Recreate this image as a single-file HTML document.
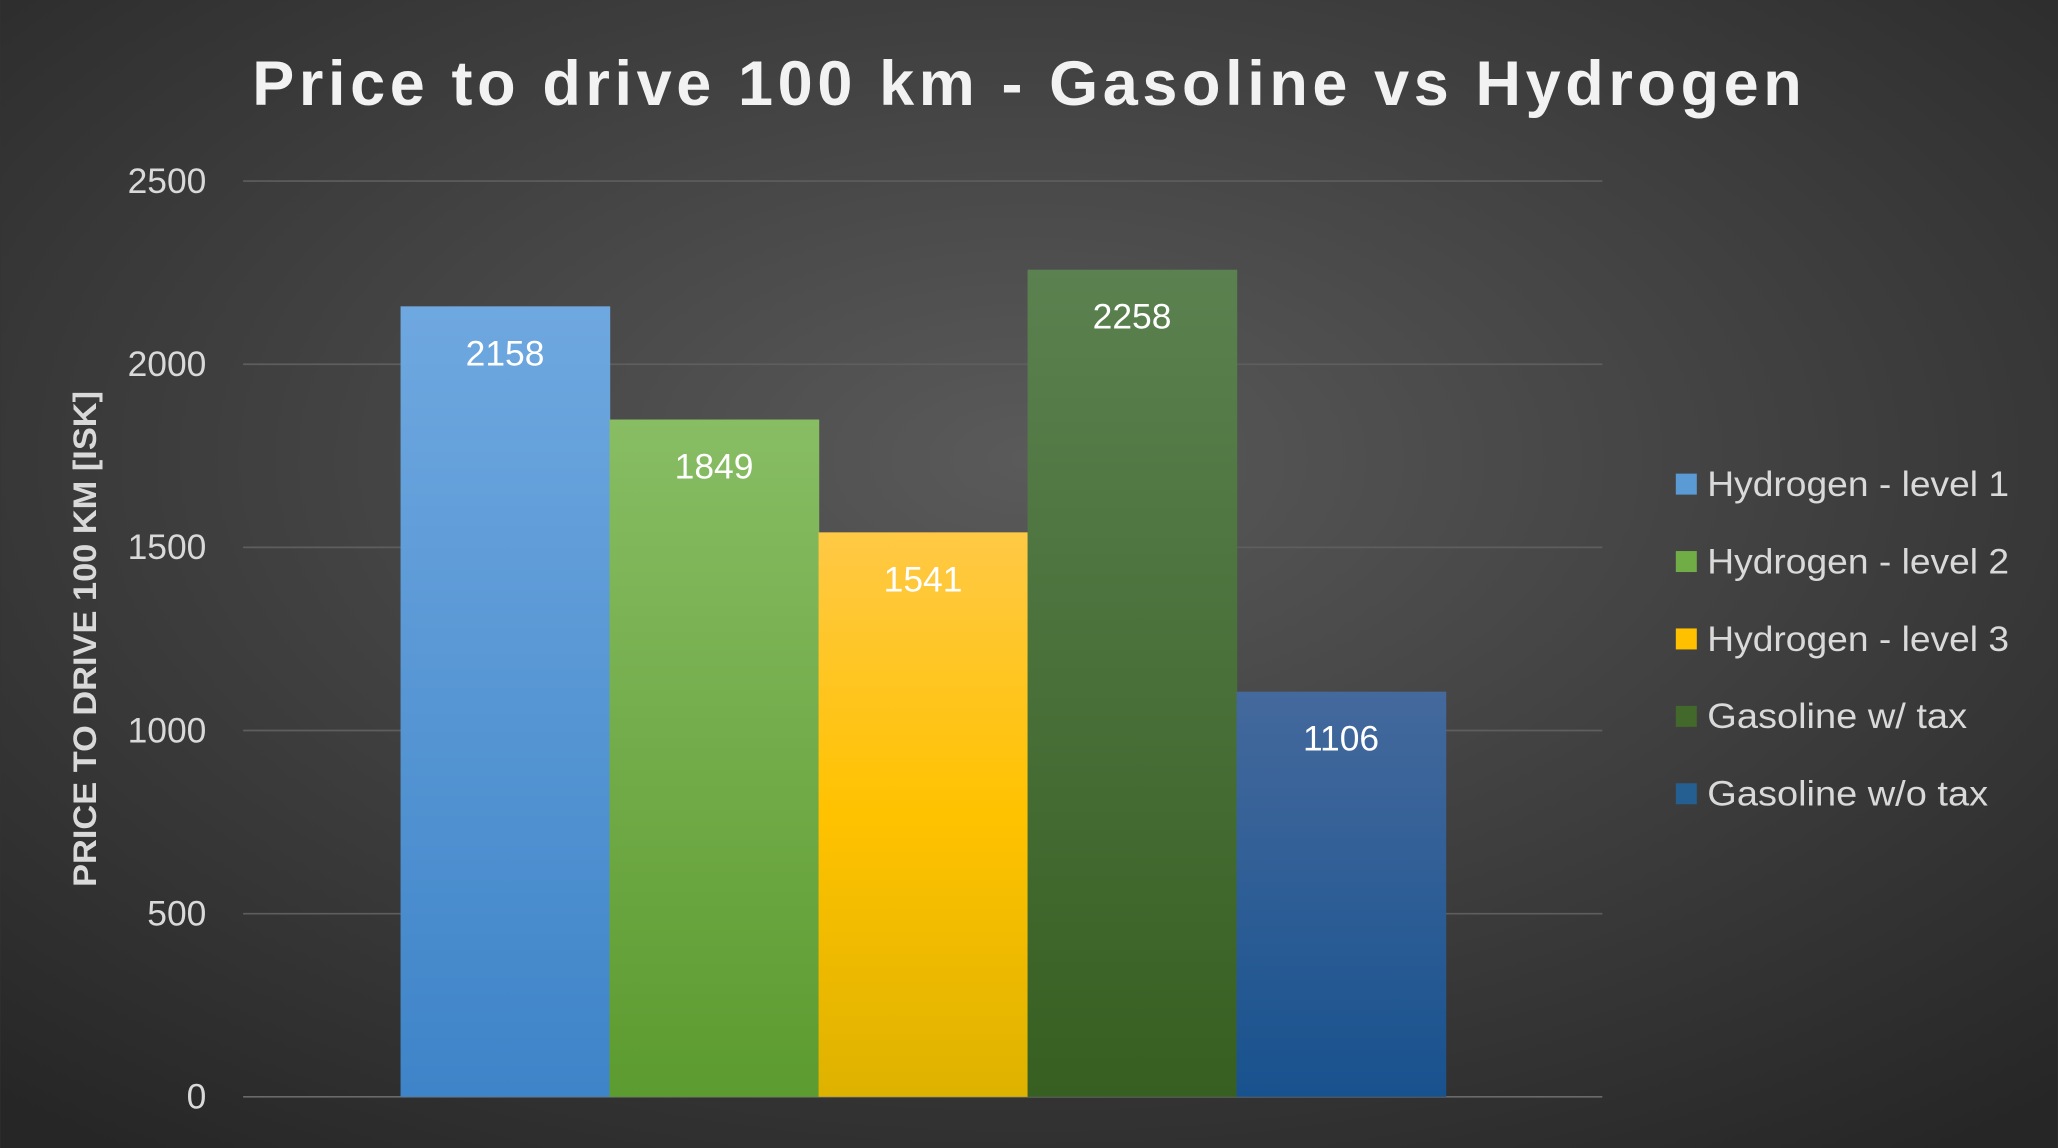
<!DOCTYPE html>
<html><head><meta charset="utf-8"><style>
html,body{margin:0;padding:0;width:2058px;height:1148px;overflow:hidden;background:#333;}
svg{display:block;font-family:"Liberation Sans","DejaVu Sans",sans-serif;}
</style></head><body>
<svg id="chart" width="2058" height="1148" viewBox="0 0 1568 875" xmlns="http://www.w3.org/2000/svg">
<defs>
<radialGradient id="bg" cx="50%" cy="40%" r="75%">
<stop offset="0" stop-color="#5a5a5a"/><stop offset="1" stop-color="#262626"/>
</radialGradient>
<linearGradient id="g0" x1="0" y1="0" x2="0" y2="1"><stop offset="0" stop-color="#6fa8e0"/><stop offset="1" stop-color="#3e84c8"/></linearGradient>
<linearGradient id="g1" x1="0" y1="0" x2="0" y2="1"><stop offset="0" stop-color="#88bd64"/><stop offset="1" stop-color="#5c9b2f"/></linearGradient>
<linearGradient id="g2" x1="0" y1="0" x2="0" y2="1"><stop offset="0" stop-color="#ffc945"/><stop offset="0.5" stop-color="#ffc200"/><stop offset="1" stop-color="#deb200"/></linearGradient>
<linearGradient id="g3" x1="0" y1="0" x2="0" y2="1"><stop offset="0" stop-color="#5b8150"/><stop offset="1" stop-color="#375f21"/></linearGradient>
<linearGradient id="g4" x1="0" y1="0" x2="0" y2="1"><stop offset="0" stop-color="#44699d"/><stop offset="1" stop-color="#18528e"/></linearGradient>
</defs>
<rect x="0" y="0" width="1568" height="875" fill="url(#bg)"/>
<text x="192" y="80" font-size="48" font-weight="bold" fill="#f2f2f2" textLength="1181" lengthAdjust="spacing">Price to drive 100 km - Gasoline vs Hydrogen</text>
<text transform="translate(73,487) rotate(-90)" text-anchor="middle" font-size="25" font-weight="bold" fill="#d9d9d9" textLength="378" lengthAdjust="spacingAndGlyphs">PRICE TO DRIVE 100 KM [ISK]</text>
<g id="grid"></g><g id="bars"></g><g id="legend"></g>
</svg>
<script>
const categories = ["Hydrogen - level 1","Hydrogen - level 2","Hydrogen - level 3","Gasoline w/ tax","Gasoline w/o tax"];
const values = [2158,1849,1541,2258,1106];
const ticks = [0,500,1000,1500,2000,2500];
const colors = ["#5b9bd5","#70ad47","#ffc000","#43682b","#255e91"];
const legendLens = [230,230,230,198,214];
const NS="http://www.w3.org/2000/svg";
const y0=836, yTop=138, maxV=2500, x0=305, bw=159.3;
function yScale(v){return y0-(v/maxV)*(y0-yTop);}
function mk(tag,attrs,parent,text){const e=document.createElementNS(NS,tag);for(const k in attrs)e.setAttribute(k,attrs[k]);if(text!==undefined)e.textContent=text;parent.appendChild(e);return e;}
const grid=document.getElementById('grid'),bars=document.getElementById('bars'),legend=document.getElementById('legend');
ticks.forEach(t=>{
 const l=mk('line',{x1:185,x2:1221,y1:yScale(t),y2:yScale(t),stroke:t===0?'#6a6a6a':'#5e5e5e','stroke-width':1.3},grid);
 
 
 const tx=mk('text',{x:157,y:yScale(t)+9,'text-anchor':'end','font-size':27,fill:'#d9d9d9'},grid,String(t));
 
 
});
values.forEach((v,i)=>{
 const x=x0+i*bw, y=yScale(v);
 const r=mk('rect',{x:x,y:y,width:bw+0.5,height:y0-y,fill:'url(#g'+i+')'},bars);
 
 
 const t=mk('text',{x:x+bw/2,y:y+45,'text-anchor':'middle','font-size':27,fill:'#ffffff'},bars,String(v));
 
 
 const ly=369+i*59;
 const g=mk('g',{},legend);
 
 
 mk('rect',{x:1277,y:ly-8,width:16,height:16,fill:colors[i]},g);
 mk('text',{x:1301,y:ly+9,'font-size':27,fill:'#d9d9d9',textLength:legendLens[i],lengthAdjust:'spacingAndGlyphs'},g,categories[i]);
});
</script>
</body></html>
